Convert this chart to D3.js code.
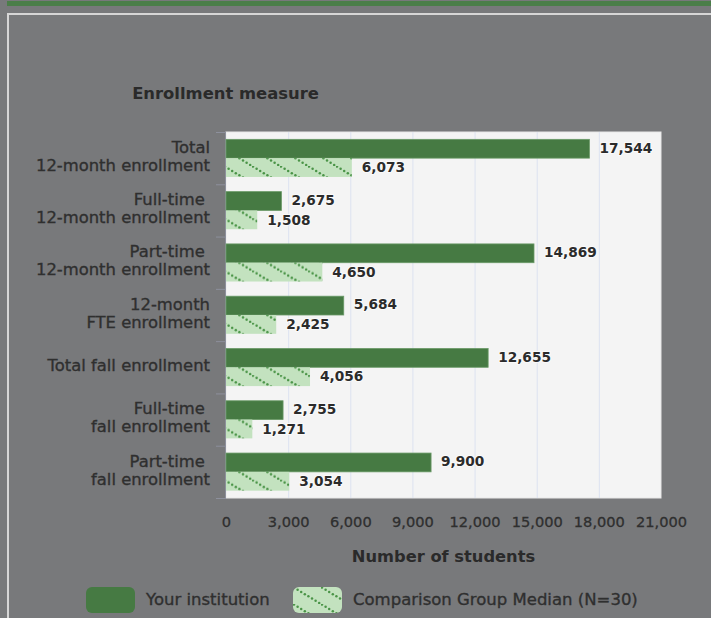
<!DOCTYPE html>
<html>
<head>
<meta charset="utf-8">
<script src="https://cdn.jsdelivr.net/npm/d3@7"></script>
<style>
  html, body { margin: 0; padding: 0; background: #78797b; }
  svg { display: block; font-family: "DejaVu Sans", Verdana, sans-serif; }
</style>
</head>
<body>
<script>
// 資料
var categories = [
  ["Total", "12-month enrollment"],
  ["Full-time ", "12-month enrollment"],
  ["Part-time ", "12-month enrollment"],
  ["12-month", "FTE enrollment"],
  ["Total fall enrollment"],
  ["Full-time ", "fall enrollment"],
  ["Part-time ", "fall enrollment"]
];
var yourValues = [17544, 2675, 14869, 5684, 12655, 2755, 9900];
var medianValues = [6073, 1508, 4650, 2425, 4056, 1271, 3054];
var seriesNames = ["Your institution", "Comparison Group Median (N=30)"];
var xTicks = [0, 3000, 6000, 9000, 12000, 15000, 18000, 21000];

var width = 711, height = 618;
var plot = { left: 226, top: 132, right: 661, bottom: 498 };

var svg = d3.select("body").append("svg")
  .attr("width", width)
  .attr("height", height);

// 斜點圖樣
var defs = svg.append("defs");
var pat = defs.append("pattern")
  .attr("id", "dots")
  .attr("patternUnits", "userSpaceOnUse")
  .attr("width", 28)
  .attr("height", 17);
pat.append("rect").attr("width", 28).attr("height", 17).attr("fill", "#c3e2bf");
pat.selectAll("circle")
  .data(d3.range(1, 28, 3.6))
  .enter()
  .append("circle")
  .attr("cx", function(d) { return d; })
  .attr("cy", function(d) { return d * 17 / 28; })
  .attr("r", 1.25)
  .attr("fill", "#4a9447");

// 上方綠色橫條與外框
svg.append("rect").attr("x", 7).attr("y", 1).attr("width", 704).attr("height", 5).attr("fill", "#4b7e49");
svg.append("rect").attr("x", 8).attr("y", 14).attr("width", 720).attr("height", 620)
  .attr("fill", "none").attr("stroke", "#d6d6d6").attr("stroke-width", 2);

var x = d3.scaleLinear()
  .domain([0, 21000])
  .range([plot.left, plot.right]);

var y = d3.scaleBand()
  .domain(d3.range(categories.length))
  .range([plot.top, plot.bottom]);

var ySub = d3.scaleBand()
  .domain([0, 1])
  .range([0, y.bandwidth()])
  .paddingOuter(0.39);

// 繪圖區
svg.append("rect")
  .attr("x", plot.left).attr("y", plot.top)
  .attr("width", plot.right - plot.left).attr("height", plot.bottom - plot.top)
  .attr("fill", "#f4f4f4").attr("stroke", "#e8e8e8");

svg.append("g").selectAll("line")
  .data(xTicks.slice(1, -1))
  .enter()
  .append("line")
  .attr("x1", function(d) { return x(d) + 0.5; })
  .attr("x2", function(d) { return x(d) + 0.5; })
  .attr("y1", plot.top)
  .attr("y2", plot.bottom)
  .attr("stroke", "#dce2f0");

// Y 軸刻度
svg.append("line")
  .attr("x1", plot.left - 0.5).attr("x2", plot.left - 0.5)
  .attr("y1", plot.top).attr("y2", plot.bottom)
  .attr("stroke", "#8d909c");
svg.append("g").selectAll("line")
  .data(d3.range(categories.length + 1))
  .enter()
  .append("line")
  .attr("x1", plot.left - 10).attr("x2", plot.left)
  .attr("y1", function(i) { return plot.top + i * y.step() + 0.5; })
  .attr("y2", function(i) { return plot.top + i * y.step() + 0.5; })
  .attr("stroke", "#8d909c");

// 類別標籤
var catLabel = svg.append("g").selectAll("text")
  .data(categories)
  .enter()
  .append("text")
  .attr("text-anchor", "end")
  .attr("fill", "#2f2f2f")
  .attr("stroke", "#2f2f2f")
  .attr("stroke-width", 0.35)
  .style("font-size", "16.4px")
  .style("white-space", "pre")
  .attr("y", function(d, i) { return y(i) + y.bandwidth() / 2 - (d.length - 1) * 9 - 2; });
catLabel.selectAll("tspan")
  .data(function(d) { return d; })
  .enter()
  .append("tspan")
  .attr("x", 210)
  .attr("dy", function(d, j) { return j === 0 ? "0.35em" : 18; })
  .text(function(d) { return d; });

// 長條
var rows = svg.append("g").selectAll("g")
  .data(categories.map(function(c, i) { return [yourValues[i], medianValues[i]]; }))
  .enter()
  .append("g")
  .attr("transform", function(d, i) { return "translate(0," + y(i) + ")"; });

rows.selectAll("rect")
  .data(function(d) { return d; })
  .enter()
  .append("rect")
  .attr("x", plot.left)
  .attr("y", function(d, j) { return ySub(j); })
  .attr("width", function(d) { return x(d) - plot.left; })
  .attr("height", ySub.bandwidth())
  .attr("fill", function(d, j) { return j === 0 ? "#467a43" : "url(#dots)"; })
  .attr("stroke", function(d, j) { return j === 0 ? "#6a9a67" : "none"; })
  .attr("stroke-width", 0.8);

rows.selectAll("text")
  .data(function(d) { return d; })
  .enter()
  .append("text")
  .attr("x", function(d) { return x(d) + 10; })
  .attr("y", function(d, j) { return ySub(j) + ySub.bandwidth() / 2 - (j === 0 ? 1 : 0); })
  .attr("dy", "0.35em")
  .attr("fill", "#2b2b2b")
  .attr("stroke", "#fafafa")
  .attr("stroke-width", 2)
  .style("paint-order", "stroke")
  .style("font-size", "13.7px")
  .style("font-weight", "bold")
  .text(function(d) { return d3.format(",")(d); });

// X 軸
var xAxis = svg.append("g")
  .attr("transform", "translate(0," + plot.bottom + ")")
  .call(d3.axisBottom(x).tickValues(xTicks).tickFormat(d3.format(",")).tickSize(0).tickPadding(19));
xAxis.select(".domain").remove();
xAxis.selectAll("text")
  .attr("fill", "#2f2f2f")
  .attr("stroke", "#2f2f2f")
  .attr("stroke-width", 0.3)
  .style("font-size", "14.6px")
  .style("font-family", "'DejaVu Sans', Verdana, sans-serif");

// 標題
svg.append("text")
  .attr("x", 225.5).attr("y", 93).attr("dy", "0.35em")
  .attr("text-anchor", "middle")
  .attr("fill", "#2a2a2a")
  .style("font-size", "16.4px").style("font-weight", "bold")
  .text("Enrollment measure");

svg.append("text")
  .attr("x", (plot.left + plot.right) / 2).attr("y", 556).attr("dy", "0.35em")
  .attr("text-anchor", "middle")
  .attr("fill", "#2a2a2a")
  .style("font-size", "16.3px").style("font-weight", "bold")
  .text("Number of students");

// 圖例
var legendX = [86, 293];
var legend = svg.append("g").selectAll("g")
  .data(seriesNames)
  .enter()
  .append("g")
  .attr("transform", function(d, i) { return "translate(" + legendX[i] + ",587)"; });
legend.append("rect")
  .attr("width", 49).attr("height", 26).attr("rx", 6)
  .attr("fill", function(d, i) { return i === 0 ? "#467a43" : "url(#dots)"; });
legend.append("text")
  .attr("x", 60).attr("y", 12).attr("dy", "0.35em")
  .attr("fill", "#2f2f2f")
  .attr("stroke", "#2f2f2f")
  .attr("stroke-width", 0.35)
  .style("font-size", "16.5px")
  .text(function(d) { return d; });
</script>
</body>
</html>
